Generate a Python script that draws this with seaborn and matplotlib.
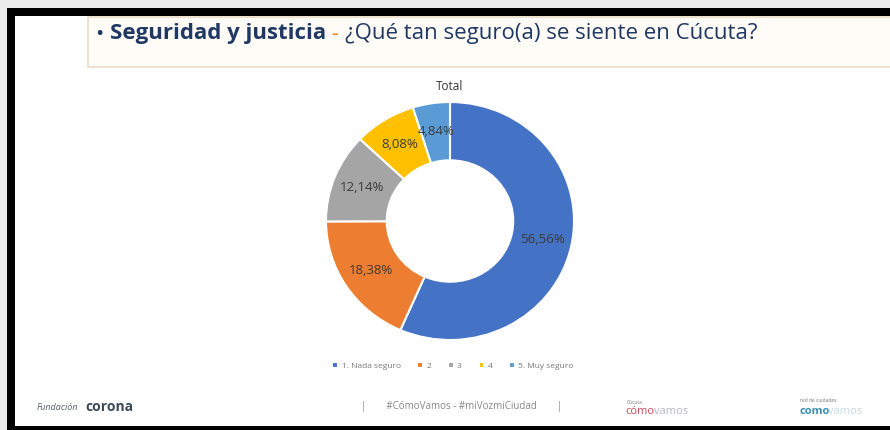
import matplotlib.pyplot as plt
import seaborn as sns
from matplotlib.patches import Rectangle

categories = ['1. Nada seguro', '2', '3', '4', '5. Muy seguro']
values = [56.56, 18.38, 12.14, 8.08, 4.84]
labels = ['56,56%', '18,38%', '12,14%', '8,08%', '4,84%']
colors = ['#4472C4', '#ED7D31', '#A5A5A5', '#FFC000', '#5B9BD5']

sns.set_theme(style='white')
plt.rcParams['font.family'] = ['Open Sans', 'DejaVu Sans']

W, H = 890, 430
fig = plt.figure(figsize=(8.9, 4.3), dpi=100, facecolor='#ececec')

def fx(x):
    return x / W

def fy(y):
    return 1 - y / H

def box(x0, y0, x1, y1, **kw):
    fig.patches.append(Rectangle((fx(x0), fy(y1)), (x1 - x0) / W, (y1 - y0) / H,
                                 transform=fig.transFigure, **kw))

# slide frame
box(7, 8, 892, 432, facecolor='black', edgecolor='none', zorder=-3)
box(15, 16, 892, 426, facecolor='white', edgecolor='none', zorder=-2)
# title box
box(88, 17, 895, 67, facecolor='#fffcf7', edgecolor='#eadcc6', linewidth=1.2, zorder=-1)

# title pieces placed one after another
renderer = fig.canvas.get_renderer()
x = fx(96)
for txt, kw in [('\u2022 ', dict(color='#1f3864')),
                ('Seguridad y justicia', dict(color='#1f3864', fontweight='bold')),
                (' - ', dict(color='#ED7D31')),
                ('\u00bfQu\u00e9 tan seguro(a) se siente en C\u00facuta?', dict(color='#1f3864'))]:
    t = fig.text(x, fy(34), txt, fontsize=16, va='center', ha='left', **kw)
    bb = t.get_window_extent(renderer=renderer)
    x += bb.width / W

# donut
ax = fig.add_axes([fx(326), fy(340), fx(248), 238 / H])
ax.set_zorder(2)
wedges, _, autotexts = ax.pie(values, colors=colors, startangle=90, counterclock=False,
                              autopct='%1.1f%%', pctdistance=0.76,
                              wedgeprops=dict(width=0.49, edgecolor='white', linewidth=1.5))
for t, lab in zip(autotexts, labels):
    t.set_text(lab)
    t.set_fontsize(9.5)
    t.set_color('#3a3a3a')
ax.set_xlim(-1, 1)
ax.set_ylim(-1, 1)
ax.set_aspect('auto')
ax.set_title('Total', fontsize=8.5, color='#333333', pad=9)

leg = fig.legend(wedges, categories, loc='center', bbox_to_anchor=(fx(453), fy(366)), ncol=5,
                 frameon=False, fontsize=6, handlelength=0.7, handleheight=0.7,
                 columnspacing=2.0, handletextpad=0.4, labelcolor='#777777')

# footer
fig.text(fx(37), fy(408), 'Fundaci\u00f3n', fontsize=6.5, color='#556070', style='italic',
         va='center', ha='left')
fig.text(fx(85), fy(407), 'corona', fontsize=10, color='#3b4a5a', fontweight='bold',
         va='center', ha='left')
fig.text(fx(462), fy(407), '|        #C\u00f3moVamos - #miVozmiCiudad        |', fontsize=7,
         color='#888888', va='center', ha='center')
fig.text(fx(627), fy(402), 'C\u00facuta', fontsize=3.5, color='#777777', va='center', ha='left')
fig.text(fx(625), fy(411), 'c\u00f3mo', fontsize=8, color='#d04a5a', va='center', ha='left')
fig.text(fx(654), fy(411), 'vamos', fontsize=8, color='#b8b8c8', va='center', ha='left')
fig.text(fx(800), fy(401), 'red de ciudades', fontsize=3.5, color='#777777', va='center', ha='left')
fig.text(fx(800), fy(411), 'como', fontsize=8, color='#3a8fb0', fontweight='bold',
         va='center', ha='left')
fig.text(fx(828), fy(411), 'vamos', fontsize=8, color='#c6dbe8', va='center', ha='left')

fig.savefig('out.png', dpi=100, facecolor=fig.get_facecolor())
